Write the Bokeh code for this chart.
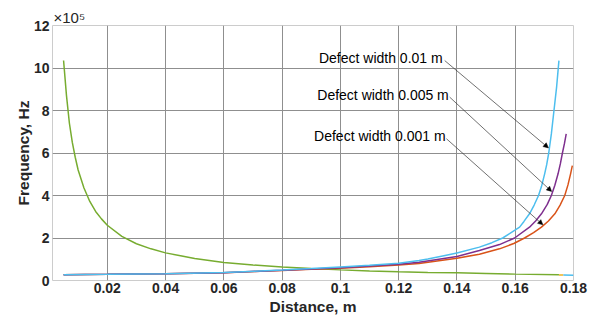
from bokeh.plotting import figure
from bokeh.models import (FixedTicker, NumeralTickFormatter, Label, Arrow, NormalHead,
                          Range1d)
from bokeh.embed import file_html
from bokeh.resources import INLINE

# ---- data (frequency in units of 1e5 Hz, distance in m) ----
green_d = [0.005, 0.006, 0.007, 0.008, 0.009, 0.01, 0.012, 0.014, 0.016, 0.018, 0.02,
           0.025, 0.03, 0.035, 0.04, 0.05, 0.06, 0.07, 0.08, 0.09, 0.10, 0.11, 0.12,
           0.13, 0.14, 0.15, 0.16, 0.175]
green_f = [10.35, 8.7, 7.4, 6.5, 5.8, 5.2, 4.35, 3.72, 3.25, 2.9, 2.6,
           2.08, 1.73, 1.49, 1.3, 1.04, 0.85, 0.73, 0.63, 0.56, 0.50, 0.45, 0.41,
           0.38, 0.36, 0.33, 0.30, 0.27]

w001_d = [0.005, 0.02, 0.04, 0.06, 0.08, 0.09, 0.10, 0.11, 0.12, 0.127, 0.13, 0.14,
          0.1477, 0.152, 0.1557, 0.1615, 0.163, 0.1649, 0.1665, 0.168, 0.169, 0.1701,
          0.1708, 0.1715, 0.1724, 0.1733, 0.1742, 0.1750]
w001_f = [0.27, 0.29, 0.32, 0.38, 0.49, 0.56, 0.64, 0.72, 0.81, 0.94, 1.01, 1.29,
          1.57, 1.78, 2.0, 2.51, 2.78, 3.14, 3.55, 4.0, 4.42, 5.02, 5.45, 6.0, 6.9,
          8.0, 9.1, 10.35]

w0005_d = [0.005, 0.02, 0.04, 0.06, 0.08, 0.09, 0.10, 0.11, 0.12, 0.127, 0.14,
           0.1477, 0.1546, 0.1598, 0.1649, 0.167, 0.169, 0.171, 0.1724, 0.1736,
           0.1747, 0.1755, 0.1762, 0.1769, 0.1775]
w0005_f = [0.27, 0.29, 0.32, 0.37, 0.48, 0.54, 0.60, 0.68, 0.77, 0.86, 1.13,
           1.41, 1.69, 2.0, 2.51, 2.8, 3.14, 3.58, 4.0, 4.48, 5.02, 5.5, 6.0, 6.45, 6.9]

w0001_d = [0.005, 0.02, 0.04, 0.06, 0.08, 0.09, 0.10, 0.11, 0.12, 0.127, 0.14,
           0.1477, 0.1546, 0.1595, 0.1632, 0.1663, 0.169, 0.1714, 0.1736, 0.1754,
           0.1770, 0.1781, 0.1790, 0.1796]
w0001_f = [0.27, 0.29, 0.32, 0.37, 0.47, 0.53, 0.58, 0.65, 0.73, 0.80, 1.05,
           1.24, 1.49, 1.74, 2.0, 2.25, 2.51, 2.8, 3.14, 3.55, 4.0, 4.5, 5.02, 5.41]

yel_d = [0.175, 0.1765]
yel_f = [0.26, 0.26]
lb_d = [0.1765, 0.18]
lb_f = [0.255, 0.25]

x_ticks = [0.02, 0.04, 0.06, 0.08, 0.10, 0.12, 0.14, 0.16, 0.18]
y_ticks = [0, 2, 4, 6, 8, 10, 12]

labels = ["Defect width 0.01 m", "Defect width 0.005 m", "Defect width 0.001 m"]
label_x = [0.1351, 0.1372, 0.1361]
label_y = [10.48, 8.71, 6.78]
arrow_start = [(0.1358, 10.35), (0.1375, 8.63), (0.1364, 6.67)]
arrow_end = [(0.1714, 6.24), (0.1725, 4.19), (0.1695, 2.62)]

BLUE = "#4DBEEE"
PURPLE = "#7E2F8E"
ORANGE = "#D95319"
GREEN = "#77AC30"
YELLOW = "#EDB120"

FONT = "Liberation Sans"

p = figure(width=598, height=323, output_backend="svg", toolbar_location=None,
           x_range=Range1d(0.0012, 0.18), y_range=Range1d(0, 12),
           min_border_left=52, min_border_right=25, min_border_top=25, min_border_bottom=43,
           title="×10⁵")

p.title.text_font = FONT
p.title.text_font_style = "normal"
p.title.text_font_size = "15px"
p.title.text_color = "#262626"
p.title.align = "left"
p.title.standoff = 0
p.title.offset = 1

p.background_fill_color = "white"
p.border_fill_color = "white"
p.outline_line_color = "#cccccc"

p.xgrid.grid_line_color = "#8f8f8f"
p.ygrid.grid_line_color = "#8f8f8f"
p.xgrid.ticker = FixedTicker(ticks=x_ticks)
p.ygrid.ticker = FixedTicker(ticks=y_ticks)

for ax in (p.xaxis[0], p.yaxis[0]):
    ax.axis_line_color = None
    ax.major_tick_line_color = None
    ax.minor_tick_line_color = None
    ax.major_tick_out = 0
    ax.major_label_text_font = FONT
    ax.major_label_text_font_style = "bold"
    ax.major_label_text_font_size = "14px"
    ax.major_label_text_color = "#262626"
    ax.axis_label_text_font = FONT
    ax.axis_label_text_font_style = "bold"
    ax.axis_label_text_font_size = "15.5px"
    ax.axis_label_text_color = "#262626"

p.xaxis.ticker = FixedTicker(ticks=x_ticks)
p.xaxis.formatter = NumeralTickFormatter(format="0.[00]")
p.yaxis.ticker = FixedTicker(ticks=y_ticks)
p.xaxis.axis_label = "Distance, m"
p.yaxis.axis_label = "Frequency, Hz"
p.xaxis.major_label_standoff = 2
p.xaxis.axis_label_standoff = 2
p.yaxis.major_label_standoff = 3
p.yaxis.axis_label_standoff = -1

p.line(yel_d, yel_f, color=YELLOW, line_width=1.5)
p.line(lb_d, lb_f, color=BLUE, line_width=1.5)
p.line(green_d, green_f, color=GREEN, line_width=1.5)
p.line(w0001_d, w0001_f, color=ORANGE, line_width=1.5)
p.line(w0005_d, w0005_f, color=PURPLE, line_width=1.5)
p.line(w001_d, w001_f, color=BLUE, line_width=1.5)

for t, lx, ly in zip(labels, label_x, label_y):
    p.add_layout(Label(x=lx, y=ly, text=t, text_align="right", text_baseline="alphabetic",
                       text_font=FONT, text_font_size="14px", text_color="black"))

for (x0, y0), (x1, y1) in zip(arrow_start, arrow_end):
    p.add_layout(Arrow(x_start=x0, y_start=y0, x_end=x1, y_end=y1,
                       line_color="#333333", line_width=0.7,
                       end=NormalHead(size=5, fill_color="black", line_color="black", line_width=0.5)))

open("out.html", "w").write(file_html(p, INLINE))
